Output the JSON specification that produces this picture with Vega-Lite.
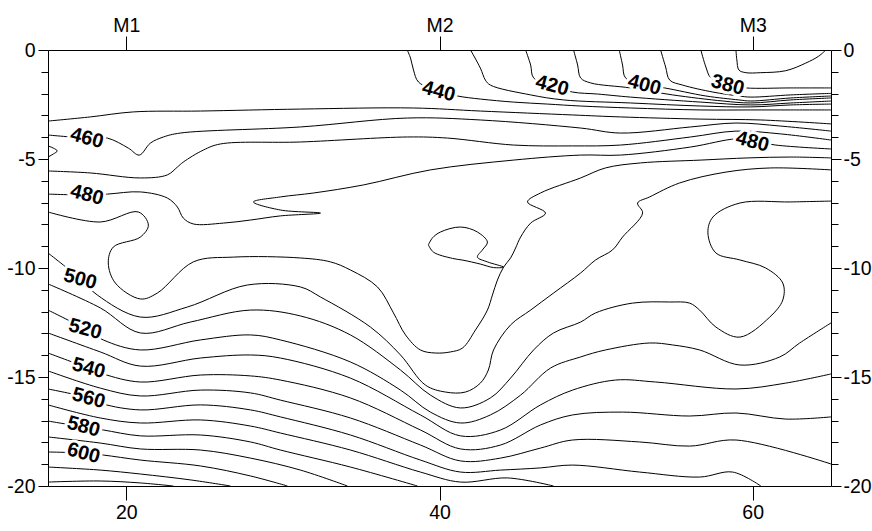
{
"$schema":"https://vega.github.io/schema/vega-lite/v6.json",
"width":783,"height":436,
"autosize":"none",
"padding":{"left":48,"top":50,"right":41,"bottom":45},
"background":"white",
"config":{"view":{"stroke":"black","strokeWidth":1},"axis":{"labelFont":"Liberation Sans Narrow, Arial Narrow, Liberation Sans, Arial, sans-serif","labelFontSize":19.5,"labelColor":"black","tickColor":"black","tickWidth":1,"grid":false,"domain":false,"title":null}},
"datasets":{
"lines":[
{"c":"370","i":0,"x":58.93,"y":0},{"c":"370","i":1,"x":58.99,"y":-0.46},{"c":"370","i":2,"x":59.12,"y":-0.92},{"c":"370","i":3,"x":59.56,"y":-1.04},{"c":"370","i":4,"x":60.52,"y":-1.04},{"c":"370","i":5,"x":62.11,"y":-0.95},{"c":"370","i":6,"x":63.39,"y":-0.6},{"c":"370","i":7,"x":64.22,"y":-0.28},{"c":"370","i":8,"x":64.67,"y":0},
{"c":"380","i":0,"x":56.69,"y":0},{"c":"380","i":1,"x":57.01,"y":-0.78},{"c":"380","i":2,"x":57.33,"y":-1.28},{"c":"380","i":3,"x":58.4,"y":-1.61},{"c":"380","i":4,"x":59.56,"y":-1.74},{"c":"380","i":5,"x":62.43,"y":-1.74},{"c":"380","i":6,"x":65,"y":-1.74},
{"c":"390","i":0,"x":54.12,"y":0},{"c":"390","i":1,"x":54.44,"y":-0.78},{"c":"390","i":2,"x":54.7,"y":-1.38},{"c":"390","i":3,"x":55.53,"y":-1.61},{"c":"390","i":4,"x":57.46,"y":-1.93},{"c":"390","i":5,"x":59.12,"y":-2.11},{"c":"390","i":6,"x":59.88,"y":-2.16},{"c":"390","i":7,"x":62.43,"y":-2.06},{"c":"390","i":8,"x":65,"y":-1.99},
{"c":"400","i":0,"x":51.48,"y":0},{"c":"400","i":1,"x":51.69,"y":-0.69},{"c":"400","i":2,"x":51.88,"y":-1.28},{"c":"400","i":3,"x":53.1,"y":-1.61},{"c":"400","i":4,"x":54.37,"y":-1.74},{"c":"400","i":5,"x":57.01,"y":-2.11},{"c":"400","i":6,"x":59.12,"y":-2.29},{"c":"400","i":7,"x":59.88,"y":-2.34},{"c":"400","i":8,"x":62.43,"y":-2.2},{"c":"400","i":9,"x":65,"y":-2.11},
{"c":"410","i":0,"x":48.56,"y":0},{"c":"410","i":1,"x":48.82,"y":-0.69},{"c":"410","i":2,"x":49.01,"y":-1.28},{"c":"410","i":3,"x":49.65,"y":-1.51},{"c":"410","i":4,"x":52.2,"y":-1.74},{"c":"410","i":5,"x":54.89,"y":-2.06},{"c":"410","i":6,"x":58.1,"y":-2.34},{"c":"410","i":7,"x":59.88,"y":-2.43},{"c":"410","i":8,"x":62.43,"y":-2.29},{"c":"410","i":9,"x":65,"y":-2.2},
{"c":"420","i":0,"x":45.5,"y":0},{"c":"420","i":1,"x":45.82,"y":-0.69},{"c":"420","i":2,"x":46.01,"y":-1.28},{"c":"420","i":3,"x":47.22,"y":-1.65},{"c":"420","i":4,"x":48.5,"y":-1.93},{"c":"420","i":5,"x":50.09,"y":-2.02},{"c":"420","i":6,"x":52.2,"y":-2.16},{"c":"420","i":7,"x":56.69,"y":-2.39},{"c":"420","i":8,"x":59.88,"y":-2.52},{"c":"420","i":9,"x":62.43,"y":-2.43},{"c":"420","i":10,"x":65,"y":-2.34},
{"c":"430","i":0,"x":41.98,"y":0},{"c":"430","i":1,"x":42.61,"y":-0.83},{"c":"430","i":2,"x":42.93,"y":-1.38},{"c":"430","i":3,"x":43.25,"y":-1.61},{"c":"430","i":4,"x":45.82,"y":-2.06},{"c":"430","i":5,"x":47.92,"y":-2.29},{"c":"430","i":6,"x":52.2,"y":-2.43},{"c":"430","i":7,"x":56.69,"y":-2.57},{"c":"430","i":8,"x":59.88,"y":-2.61},{"c":"430","i":9,"x":62.43,"y":-2.52},{"c":"430","i":10,"x":65,"y":-2.48},
{"c":"440","i":0,"x":37.94,"y":0},{"c":"440","i":1,"x":38.15,"y":-0.37},{"c":"440","i":2,"x":38.34,"y":-0.92},{"c":"440","i":3,"x":38.66,"y":-1.47},{"c":"440","i":4,"x":39.94,"y":-1.88},{"c":"440","i":5,"x":41.15,"y":-2.11},{"c":"440","i":6,"x":42.61,"y":-2.25},{"c":"440","i":7,"x":44.73,"y":-2.39},{"c":"440","i":8,"x":46.9,"y":-2.48},{"c":"440","i":9,"x":49.01,"y":-2.57},{"c":"440","i":10,"x":52.2,"y":-2.66},{"c":"440","i":11,"x":56.69,"y":-2.75},{"c":"440","i":12,"x":59.88,"y":-2.75},{"c":"440","i":13,"x":62.43,"y":-2.75},{"c":"440","i":14,"x":65,"y":-2.75},
{"c":"450","i":0,"x":15,"y":-3.26},{"c":"450","i":1,"x":17.7,"y":-3.07},{"c":"450","i":2,"x":20.45,"y":-2.84},{"c":"450","i":3,"x":24.73,"y":-2.8},{"c":"450","i":4,"x":31.12,"y":-2.71},{"c":"450","i":5,"x":38.34,"y":-2.66},{"c":"450","i":6,"x":42.61,"y":-2.8},{"c":"450","i":7,"x":48.5,"y":-2.98},{"c":"450","i":8,"x":51.56,"y":-3.07},{"c":"450","i":9,"x":56.69,"y":-3.17},{"c":"450","i":10,"x":60.52,"y":-3.21},{"c":"450","i":11,"x":65,"y":-3.39},
{"c":"460","i":0,"x":15,"y":-3.9},{"c":"460","i":1,"x":17.51,"y":-4.04},{"c":"460","i":2,"x":18.79,"y":-4.04},{"c":"460","i":3,"x":20.13,"y":-4.5},{"c":"460","i":4,"x":20.83,"y":-4.82},{"c":"460","i":5,"x":21.54,"y":-4.27},{"c":"460","i":6,"x":22.37,"y":-3.99},{"c":"460","i":7,"x":23.45,"y":-3.81},{"c":"460","i":8,"x":31.12,"y":-3.53},{"c":"460","i":9,"x":37.96,"y":-3.12},{"c":"460","i":10,"x":42.61,"y":-3.21},{"c":"460","i":11,"x":49.01,"y":-3.58},{"c":"460","i":12,"x":51.56,"y":-3.81},{"c":"460","i":13,"x":56.04,"y":-3.53},{"c":"460","i":14,"x":58.93,"y":-3.35},{"c":"460","i":15,"x":61.79,"y":-3.49},{"c":"460","i":16,"x":65,"y":-3.72},
{"c":"470a","i":0,"x":15,"y":-4.4},{"c":"470a","i":1,"x":15.34,"y":-4.5},{"c":"470a","i":2,"x":15.59,"y":-4.63},{"c":"470a","i":3,"x":15.34,"y":-4.77},{"c":"470a","i":4,"x":15,"y":-4.91},
{"c":"470","i":0,"x":15,"y":-5.55},{"c":"470","i":1,"x":17.7,"y":-5.64},{"c":"470","i":2,"x":20.9,"y":-5.87},{"c":"470","i":3,"x":22.62,"y":-5.73},{"c":"470","i":4,"x":23.26,"y":-5.37},{"c":"470","i":5,"x":23.64,"y":-5.14},{"c":"470","i":6,"x":24.92,"y":-4.59},{"c":"470","i":7,"x":26.01,"y":-4.31},{"c":"470","i":8,"x":31.12,"y":-4.22},{"c":"470","i":9,"x":37.96,"y":-3.99},{"c":"470","i":10,"x":40.51,"y":-4.04},{"c":"470","i":11,"x":44.73,"y":-4.36},{"c":"470","i":12,"x":48.5,"y":-4.4},{"c":"470","i":13,"x":51.56,"y":-4.36},{"c":"470","i":14,"x":56.04,"y":-3.99},{"c":"470","i":15,"x":58.93,"y":-3.72},{"c":"470","i":16,"x":61.79,"y":-3.85},{"c":"470","i":17,"x":65,"y":-4.13},
{"c":"480","i":0,"x":15,"y":-6.61},{"c":"480","i":1,"x":17.51,"y":-6.65},{"c":"480","i":2,"x":18.79,"y":-6.61},{"c":"480","i":3,"x":20.9,"y":-6.51},{"c":"480","i":4,"x":22.62,"y":-6.79},{"c":"480","i":5,"x":23.26,"y":-7.2},{"c":"480","i":6,"x":23.64,"y":-7.71},{"c":"480","i":7,"x":24.28,"y":-7.98},{"c":"480","i":8,"x":26.2,"y":-7.94},{"c":"480","i":9,"x":27.93,"y":-7.8},{"c":"480","i":10,"x":29.84,"y":-7.61},{"c":"480","i":11,"x":32.4,"y":-7.48},{"c":"480","i":12,"x":29.84,"y":-7.34},{"c":"480","i":13,"x":28.12,"y":-6.97},{"c":"480","i":14,"x":29.84,"y":-6.74},{"c":"480","i":15,"x":31.95,"y":-6.56},{"c":"480","i":16,"x":35.14,"y":-6.19},{"c":"480","i":17,"x":39.42,"y":-5.5},{"c":"480","i":18,"x":44.73,"y":-5.05},{"c":"480","i":19,"x":49.01,"y":-4.82},{"c":"480","i":20,"x":51.56,"y":-4.82},{"c":"480","i":21,"x":56.04,"y":-4.45},{"c":"480","i":22,"x":58.93,"y":-4.08},{"c":"480","i":23,"x":60.01,"y":-4.17},{"c":"480","i":24,"x":61.47,"y":-4.36},{"c":"480","i":25,"x":65,"y":-4.54},
{"c":"490","i":0,"x":15,"y":-7.43},{"c":"490","i":1,"x":18.34,"y":-7.89},{"c":"490","i":2,"x":20.77,"y":-7.43},{"c":"490","i":3,"x":21.41,"y":-8.03},{"c":"490","i":4,"x":20.9,"y":-8.58},{"c":"490","i":5,"x":19.17,"y":-9.04},{"c":"490","i":6,"x":18.85,"y":-9.77},{"c":"490","i":7,"x":19.3,"y":-10.69},{"c":"490","i":8,"x":20.9,"y":-11.42},{"c":"490","i":9,"x":21.98,"y":-11.15},{"c":"490","i":10,"x":24.28,"y":-9.72},{"c":"490","i":11,"x":26.84,"y":-9.5},{"c":"490","i":12,"x":31.12,"y":-9.54},{"c":"490","i":13,"x":33.04,"y":-9.72},{"c":"490","i":14,"x":34.31,"y":-10.09},{"c":"490","i":15,"x":36.04,"y":-10.87},{"c":"490","i":16,"x":37.06,"y":-12.06},{"c":"490","i":17,"x":37.83,"y":-13.07},{"c":"490","i":18,"x":38.78,"y":-13.76},{"c":"490","i":19,"x":39.74,"y":-13.9},{"c":"490","i":20,"x":40.7,"y":-13.85},{"c":"490","i":21,"x":41.47,"y":-13.67},{"c":"490","i":22,"x":42.3,"y":-12.84},{"c":"490","i":23,"x":43.06,"y":-11.93},{"c":"490","i":24,"x":43.38,"y":-11.24},{"c":"490","i":25,"x":43.7,"y":-10.55},{"c":"490","i":26,"x":44.09,"y":-9.96},{"c":"490","i":27,"x":44.54,"y":-9.54},{"c":"490","i":28,"x":44.86,"y":-9.08},{"c":"490","i":29,"x":45.18,"y":-8.58},{"c":"490","i":30,"x":45.82,"y":-7.94},{"c":"490","i":31,"x":46.77,"y":-7.48},{"c":"490","i":32,"x":45.62,"y":-6.97},{"c":"490","i":33,"x":46.45,"y":-6.56},{"c":"490","i":34,"x":49.01,"y":-5.87},{"c":"490","i":35,"x":50.6,"y":-5.41},{"c":"490","i":36,"x":52.84,"y":-5.18},{"c":"490","i":37,"x":56.69,"y":-5.05},{"c":"490","i":38,"x":59.69,"y":-4.95},{"c":"490","i":39,"x":62.43,"y":-4.91},{"c":"490","i":40,"x":65,"y":-4.95},
{"c":"490b","i":0,"x":39.29,"y":-8.94},{"c":"490b","i":1,"x":39.55,"y":-8.62},{"c":"490b","i":2,"x":40.06,"y":-8.35},{"c":"490b","i":3,"x":41.34,"y":-8.12},{"c":"490b","i":4,"x":42.42,"y":-8.35},{"c":"490b","i":5,"x":43.06,"y":-8.81},{"c":"490b","i":6,"x":42.74,"y":-9.17},{"c":"490b","i":7,"x":42.42,"y":-9.5},{"c":"490b","i":8,"x":43.06,"y":-9.72},{"c":"490b","i":9,"x":44.09,"y":-9.96},{"c":"490b","i":10,"x":43.45,"y":-9.98},{"c":"490b","i":11,"x":42.61,"y":-9.82},{"c":"490b","i":12,"x":41.5,"y":-9.64},{"c":"490b","i":13,"x":40.83,"y":-9.56},{"c":"490b","i":14,"x":39.61,"y":-9.27},{"c":"490b","i":15,"x":39.29,"y":-8.94},
{"c":"500","i":0,"x":15,"y":-9.31},{"c":"500","i":1,"x":17.06,"y":-10.5},{"c":"500","i":2,"x":18.15,"y":-11.24},{"c":"500","i":3,"x":20.9,"y":-12.25},{"c":"500","i":4,"x":23.9,"y":-11.79},{"c":"500","i":5,"x":27.73,"y":-10.78},{"c":"500","i":6,"x":31.12,"y":-10.87},{"c":"500","i":7,"x":32.4,"y":-11.33},{"c":"500","i":8,"x":35.59,"y":-12.71},{"c":"500","i":9,"x":37.51,"y":-13.99},{"c":"500","i":10,"x":39.1,"y":-15.37},{"c":"500","i":11,"x":40.38,"y":-15.69},{"c":"500","i":12,"x":41.66,"y":-15.69},{"c":"500","i":13,"x":42.61,"y":-15.28},{"c":"500","i":14,"x":43.12,"y":-14.68},{"c":"500","i":15,"x":43.45,"y":-13.76},{"c":"500","i":16,"x":44.54,"y":-12.61},{"c":"500","i":17,"x":45.82,"y":-11.93},{"c":"500","i":18,"x":47.28,"y":-11.15},{"c":"500","i":19,"x":49.01,"y":-10.23},{"c":"500","i":20,"x":49.97,"y":-9.63},{"c":"500","i":21,"x":51.05,"y":-9.17},{"c":"500","i":22,"x":51.69,"y":-8.58},{"c":"500","i":23,"x":52.97,"y":-7.48},{"c":"500","i":24,"x":52.65,"y":-7.02},{"c":"500","i":25,"x":53.42,"y":-6.74},{"c":"500","i":26,"x":55.33,"y":-6.1},{"c":"500","i":27,"x":58.29,"y":-5.6},{"c":"500","i":28,"x":61.15,"y":-5.41},{"c":"500","i":29,"x":65,"y":-5.5},
{"c":"510","i":0,"x":15,"y":-10.73},{"c":"510","i":1,"x":18.34,"y":-11.83},{"c":"510","i":2,"x":20.9,"y":-12.98},{"c":"510","i":3,"x":24.09,"y":-12.48},{"c":"510","i":4,"x":27.93,"y":-11.93},{"c":"510","i":5,"x":31.12,"y":-12.2},{"c":"510","i":6,"x":34.31,"y":-13.07},{"c":"510","i":7,"x":37.51,"y":-14.68},{"c":"510","i":8,"x":39.42,"y":-15.83},{"c":"510","i":9,"x":41.34,"y":-16.42},{"c":"510","i":10,"x":43.25,"y":-15.96},{"c":"510","i":11,"x":44.54,"y":-15.05},{"c":"510","i":12,"x":46.01,"y":-13.76},{"c":"510","i":13,"x":47.28,"y":-12.98},{"c":"510","i":14,"x":49.01,"y":-12.48},{"c":"510","i":15,"x":49.97,"y":-12.06},{"c":"510","i":16,"x":52.33,"y":-11.61},{"c":"510","i":17,"x":54.7,"y":-11.56},{"c":"510","i":18,"x":55.97,"y":-11.61},{"c":"510","i":19,"x":56.61,"y":-11.93},{"c":"510","i":20,"x":57.65,"y":-12.71},{"c":"510","i":21,"x":59.18,"y":-13.17},{"c":"510","i":22,"x":61.09,"y":-12.25},{"c":"510","i":23,"x":61.92,"y":-11.47},{"c":"510","i":24,"x":61.92,"y":-10.69},{"c":"510","i":25,"x":60.83,"y":-10.0},{"c":"510","i":26,"x":59.18,"y":-9.63},{"c":"510","i":27,"x":57.65,"y":-9.31},{"c":"510","i":28,"x":57.14,"y":-8.39},{"c":"510","i":29,"x":57.46,"y":-7.66},{"c":"510","i":30,"x":59.18,"y":-7.02},{"c":"510","i":31,"x":62.43,"y":-6.97},{"c":"510","i":32,"x":65,"y":-6.93},
{"c":"520","i":0,"x":15,"y":-11.93},{"c":"520","i":1,"x":17.38,"y":-12.8},{"c":"520","i":2,"x":18.53,"y":-13.3},{"c":"520","i":3,"x":20.9,"y":-13.76},{"c":"520","i":4,"x":24.73,"y":-13.3},{"c":"520","i":5,"x":27.93,"y":-13.07},{"c":"520","i":6,"x":29.84,"y":-13.3},{"c":"520","i":7,"x":34.31,"y":-14.31},{"c":"520","i":8,"x":37.51,"y":-15.6},{"c":"520","i":9,"x":39.42,"y":-16.61},{"c":"520","i":10,"x":41.34,"y":-17.11},{"c":"520","i":11,"x":43.25,"y":-16.74},{"c":"520","i":12,"x":45.18,"y":-15.83},{"c":"520","i":13,"x":47.09,"y":-14.59},{"c":"520","i":14,"x":49.01,"y":-14.08},{"c":"520","i":15,"x":50.6,"y":-13.76},{"c":"520","i":16,"x":53.42,"y":-13.44},{"c":"520","i":17,"x":54.89,"y":-13.53},{"c":"520","i":18,"x":56.61,"y":-13.76},{"c":"520","i":19,"x":59.18,"y":-14.45},{"c":"520","i":20,"x":61.73,"y":-14.08},{"c":"520","i":21,"x":63.0,"y":-13.44},{"c":"520","i":22,"x":65,"y":-12.52},
{"c":"530","i":0,"x":15,"y":-12.98},{"c":"530","i":1,"x":18.34,"y":-13.85},{"c":"530","i":2,"x":20.9,"y":-14.5},{"c":"530","i":3,"x":24.73,"y":-14.13},{"c":"530","i":4,"x":27.93,"y":-13.99},{"c":"530","i":5,"x":29.84,"y":-14.13},{"c":"530","i":6,"x":34.31,"y":-15.05},{"c":"530","i":7,"x":38.78,"y":-16.74},{"c":"530","i":8,"x":41.34,"y":-17.7},{"c":"530","i":9,"x":43.9,"y":-17.43},{"c":"530","i":10,"x":46.45,"y":-16.28},{"c":"530","i":11,"x":48.5,"y":-15.6},{"c":"530","i":12,"x":51.24,"y":-15.14},{"c":"530","i":13,"x":53.8,"y":-15.23},{"c":"530","i":14,"x":58.93,"y":-15.55},{"c":"530","i":15,"x":62.11,"y":-15.28},{"c":"530","i":16,"x":65,"y":-14.86},
{"c":"540","i":0,"x":15,"y":-13.9},{"c":"540","i":1,"x":17.57,"y":-14.59},{"c":"540","i":2,"x":18.53,"y":-14.86},{"c":"540","i":3,"x":20.9,"y":-15.23},{"c":"540","i":4,"x":24.73,"y":-14.91},{"c":"540","i":5,"x":27.93,"y":-14.95},{"c":"540","i":6,"x":29.84,"y":-15.14},{"c":"540","i":7,"x":34.31,"y":-15.96},{"c":"540","i":8,"x":38.78,"y":-17.43},{"c":"540","i":9,"x":41.34,"y":-18.3},{"c":"540","i":10,"x":43.9,"y":-18.12},{"c":"540","i":11,"x":46.45,"y":-17.2},{"c":"540","i":12,"x":48.5,"y":-16.74},{"c":"540","i":13,"x":51.69,"y":-16.61},{"c":"540","i":14,"x":55.97,"y":-16.79},{"c":"540","i":15,"x":58.93,"y":-16.65},{"c":"540","i":16,"x":62.11,"y":-16.93},{"c":"540","i":17,"x":65,"y":-16.83},
{"c":"550","i":0,"x":15,"y":-14.72},{"c":"550","i":1,"x":18.34,"y":-15.51},{"c":"550","i":2,"x":20.9,"y":-15.87},{"c":"550","i":3,"x":24.73,"y":-15.6},{"c":"550","i":4,"x":27.93,"y":-15.73},{"c":"550","i":5,"x":29.84,"y":-16.06},{"c":"550","i":6,"x":34.31,"y":-16.88},{"c":"550","i":7,"x":38.78,"y":-18.12},{"c":"550","i":8,"x":41.34,"y":-18.85},{"c":"550","i":9,"x":43.9,"y":-18.72},{"c":"550","i":10,"x":46.45,"y":-18.26},{"c":"550","i":11,"x":48.5,"y":-17.89},{"c":"550","i":12,"x":52.78,"y":-17.98},{"c":"550","i":13,"x":55.97,"y":-18.17},{"c":"550","i":14,"x":58.93,"y":-17.89},{"c":"550","i":15,"x":65,"y":-18.99},
{"c":"560","i":0,"x":15,"y":-15.55},{"c":"560","i":1,"x":17.57,"y":-15.96},{"c":"560","i":2,"x":18.53,"y":-16.24},{"c":"560","i":3,"x":20.9,"y":-16.51},{"c":"560","i":4,"x":24.73,"y":-16.28},{"c":"560","i":5,"x":27.93,"y":-16.51},{"c":"560","i":6,"x":29.84,"y":-16.83},{"c":"560","i":7,"x":34.31,"y":-17.66},{"c":"560","i":8,"x":38.78,"y":-18.81},{"c":"560","i":9,"x":41.34,"y":-19.36},{"c":"560","i":10,"x":43.9,"y":-19.27},{"c":"560","i":11,"x":46.45,"y":-19.17},{"c":"560","i":12,"x":48.5,"y":-19.04},{"c":"560","i":13,"x":52.78,"y":-19.36},{"c":"560","i":14,"x":56.61,"y":-19.59},{"c":"560","i":15,"x":58.72,"y":-19.36},{"c":"560","i":16,"x":60.52,"y":-20},
{"c":"570","i":0,"x":15,"y":-16.28},{"c":"570","i":1,"x":18.34,"y":-16.88},{"c":"570","i":2,"x":20.9,"y":-17.11},{"c":"570","i":3,"x":24.73,"y":-16.97},{"c":"570","i":4,"x":27.93,"y":-17.25},{"c":"570","i":5,"x":29.84,"y":-17.57},{"c":"570","i":6,"x":34.31,"y":-18.35},{"c":"570","i":7,"x":38.78,"y":-19.36},{"c":"570","i":8,"x":41.34,"y":-19.82},{"c":"570","i":9,"x":44.35,"y":-19.63},{"c":"570","i":10,"x":47.28,"y":-20},
{"c":"580","i":0,"x":15,"y":-17.02},{"c":"580","i":1,"x":17.26,"y":-17.29},{"c":"580","i":2,"x":18.53,"y":-17.43},{"c":"580","i":3,"x":20.9,"y":-17.7},{"c":"580","i":4,"x":24.73,"y":-17.66},{"c":"580","i":5,"x":27.93,"y":-17.98},{"c":"580","i":6,"x":29.84,"y":-18.35},{"c":"580","i":7,"x":34.31,"y":-19.13},{"c":"580","i":8,"x":38.59,"y":-20},
{"c":"590","i":0,"x":15,"y":-17.75},{"c":"590","i":1,"x":18.34,"y":-18.03},{"c":"590","i":2,"x":20.9,"y":-18.3},{"c":"590","i":3,"x":24.73,"y":-18.35},{"c":"590","i":4,"x":27.93,"y":-18.72},{"c":"590","i":5,"x":31.12,"y":-19.27},{"c":"590","i":6,"x":34.12,"y":-20},
{"c":"600","i":0,"x":15,"y":-18.44},{"c":"600","i":1,"x":17.26,"y":-18.49},{"c":"600","i":2,"x":18.53,"y":-18.58},{"c":"600","i":3,"x":20.9,"y":-18.81},{"c":"600","i":4,"x":24.73,"y":-19.08},{"c":"600","i":5,"x":27.93,"y":-19.54},{"c":"600","i":6,"x":30.29,"y":-20},
{"c":"610","i":0,"x":15,"y":-19.13},{"c":"610","i":1,"x":18.34,"y":-19.27},{"c":"610","i":2,"x":20.9,"y":-19.45},{"c":"610","i":3,"x":24.09,"y":-19.72},{"c":"610","i":4,"x":26.65,"y":-20},
{"c":"620","i":0,"x":15,"y":-19.82},{"c":"620","i":1,"x":18.34,"y":-19.77},{"c":"620","i":2,"x":20.9,"y":-19.86},{"c":"620","i":3,"x":23.01,"y":-20}
],
"labels":[
{"k":"a","t":"440","x":39.94,"y":-1.91},
{"k":"b","t":"420","x":47.2,"y":-1.64},
{"k":"c","t":"400","x":53.08,"y":-1.61},
{"k":"d","t":"380","x":58.4,"y":-1.61},
{"k":"e","t":"480","x":59.98,"y":-4.21},
{"k":"f","t":"460","x":17.49,"y":-4.05},
{"k":"g","t":"480","x":17.49,"y":-6.65},
{"k":"h","t":"500","x":17.06,"y":-10.52},
{"k":"i","t":"520","x":17.38,"y":-12.81},
{"k":"j","t":"540","x":17.59,"y":-14.6},
{"k":"l","t":"560","x":17.59,"y":-15.98},
{"k":"m","t":"580","x":17.27,"y":-17.28},
{"k":"n","t":"600","x":17.27,"y":-18.5}
]
},
"layer":[
{"data":{"name":"lines"},
 "mark":{"type":"line","interpolate":"catmull-rom","color":"black","strokeWidth":1,"clip":true},
 "encoding":{
  "x":{"field":"x","type":"quantitative","scale":{"domain":[15,65],"nice":false,"zero":false},
       "axis":{"orient":"bottom","values":[20,40,60],"tickSize":14,"labelPadding":3,"labelExpr":"'' + datum.value"}},
  "y":{"field":"y","type":"quantitative","scale":{"domain":[-20,0],"nice":false,"zero":false},
       "axis":{"orient":"left","values":[-20,-19,-18,-17,-16,-15,-14,-13,-12,-11,-10,-9,-8,-7,-6,-5,-4,-3,-2,-1,0],
               "tickSize":{"condition":{"test":"datum.value % 5 === 0","value":10},"value":7},
               "labelExpr":"datum.value % 5 === 0 ? '' + datum.value : ''","labelPadding":3}},
  "detail":{"field":"c","type":"nominal"},
  "order":{"field":"i","type":"quantitative"}
 }},
{"data":{"name":"labels"},
 "mark":{"type":"text","font":"Liberation Sans Narrow, Arial Narrow, Liberation Sans, Arial, sans-serif","fontWeight":"bold","fontSize":20,"fill":"white","stroke":"white","strokeWidth":6,"strokeJoin":"round","align":"center","baseline":"middle"},
 "encoding":{
  "x":{"field":"x","type":"quantitative","axis":{"orient":"top","values":[20,40,60],"tickSize":14,"labelPadding":1,"labelExpr":"'M' + (datum.value / 20)"}},
  "y":{"field":"y","type":"quantitative","axis":{"orient":"right","values":[-20,-19,-18,-17,-16,-15,-14,-13,-12,-11,-10,-9,-8,-7,-6,-5,-4,-3,-2,-1,0],
               "tickSize":{"condition":{"test":"datum.value % 5 === 0","value":10},"value":7},
               "labelExpr":"datum.value % 5 === 0 ? '' + datum.value : ''","labelPadding":2}},
  "text":{"field":"t","type":"nominal"},
  "angle":{"field":"k","type":"nominal","scale":{"domain":["a","b","c","d","e","f","g","h","i","j","l","m","n"],"range":[15,15,8,8,10,5,0,40,20,12,8,5,0]},"legend":null}
 }},
{"data":{"name":"labels"},
 "mark":{"type":"text","font":"Liberation Sans Narrow, Arial Narrow, Liberation Sans, Arial, sans-serif","fontWeight":"bold","fontSize":20,"fill":"black","align":"center","baseline":"middle"},
 "encoding":{
  "x":{"field":"x","type":"quantitative","axis":null},
  "y":{"field":"y","type":"quantitative","axis":null},
  "text":{"field":"t","type":"nominal"},
  "angle":{"field":"k","type":"nominal","scale":{"domain":["a","b","c","d","e","f","g","h","i","j","l","m","n"],"range":[15,15,8,8,10,5,0,40,20,12,8,5,0]},"legend":null}
 }}
],
"resolve":{"axis":{"x":"independent","y":"independent"}}
}
